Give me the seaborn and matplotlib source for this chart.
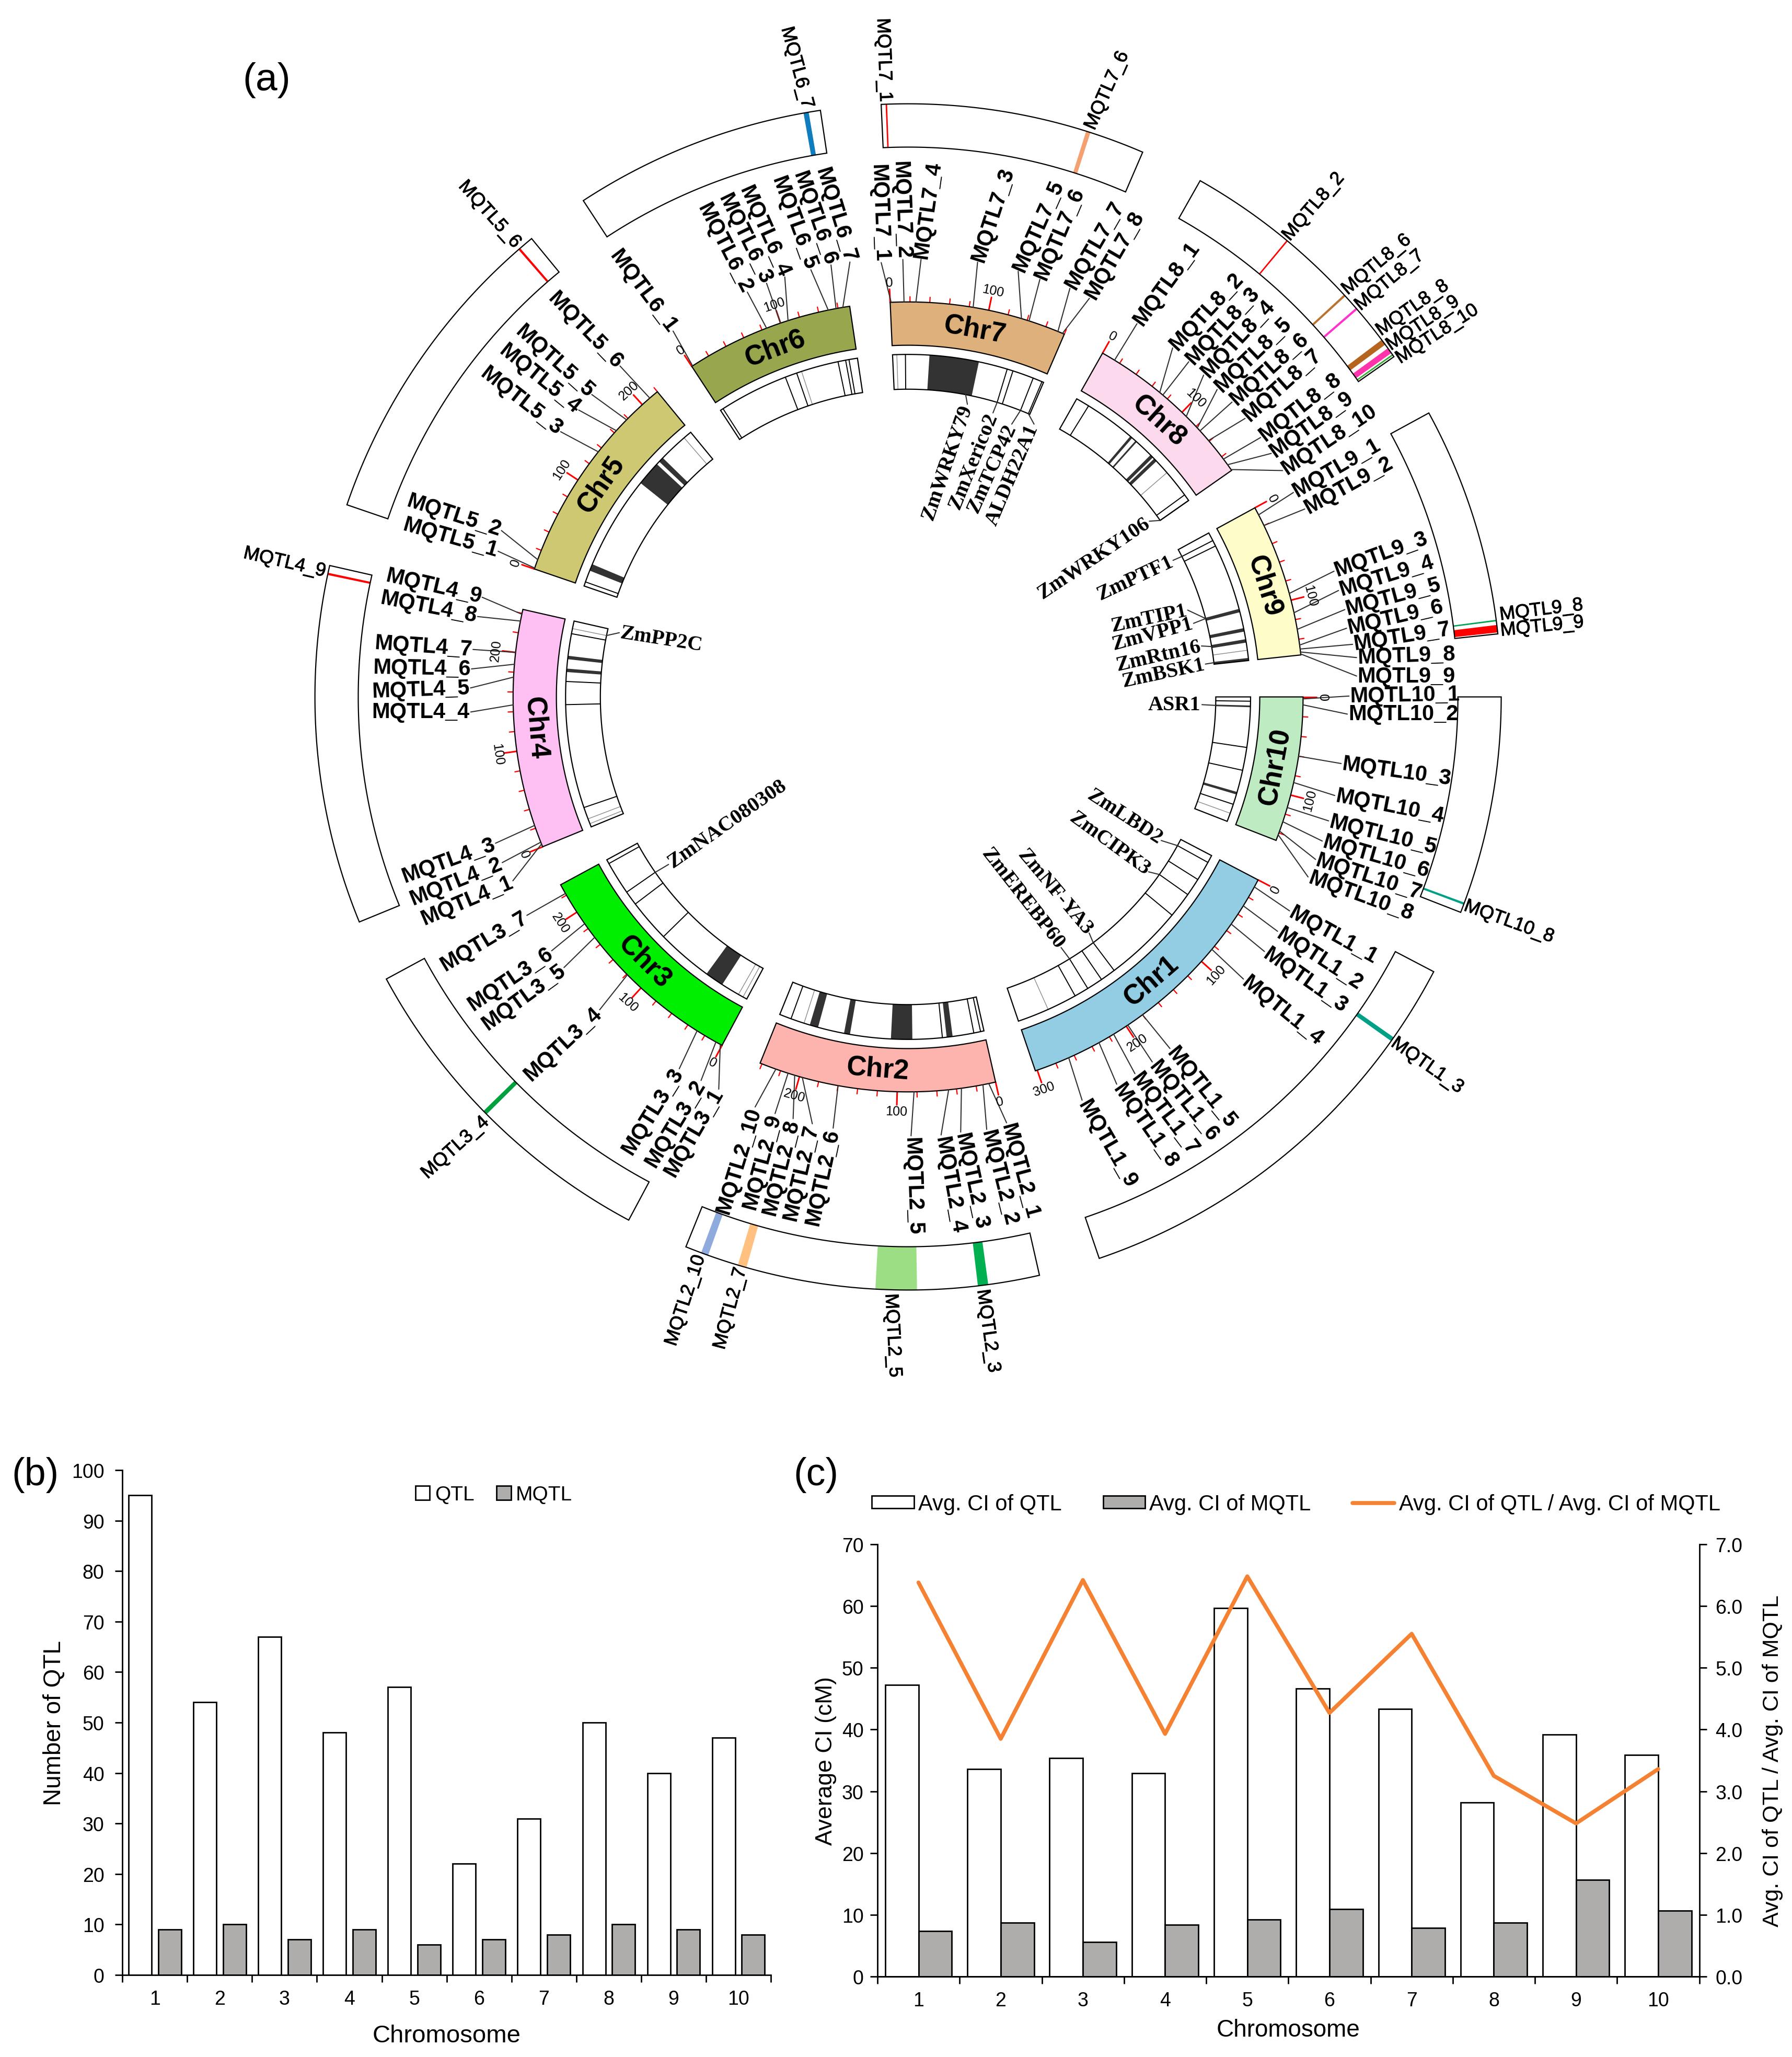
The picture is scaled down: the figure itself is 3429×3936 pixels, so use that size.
import numpy as np
import pandas as pd
import matplotlib
matplotlib.use('Agg')
import matplotlib.pyplot as plt
import matplotlib.patheffects as pe
import seaborn as sns
from matplotlib.font_manager import FontProperties
from matplotlib.textpath import TextPath

# ---- data, panel (a)
chr_names = ['Chr1', 'Chr2', 'Chr3', 'Chr4', 'Chr5', 'Chr6', 'Chr7', 'Chr8', 'Chr9', 'Chr10']
chr_lengths = [302, 242, 232, 244, 220, 172, 180, 177, 156, 148]
chr_colors = ['#93CDE3', '#FDB3AE', '#00EE00', '#FEBFF3', '#CEC872',
              '#98A64E', '#DEB07B', '#FDD9EE', '#FEFDC9', '#BEEBC1']

qtl_pos = [
    [8, 30, 52, 84, 180, 198, 215, 232, 266],
    [7, 13, 35, 48, 83, 160, 197, 205, 212, 225],
    [2, 7, 29, 119, 169, 186, 222],
    [3, 5, 23, 147, 175, 188, 200, 232, 239],
    [1, 10, 135, 163, 178, 210],
    [1, 85, 100, 108, 150, 158, 165],
    [1, 14, 84, 26, 134, 142, 173, 178],
    [14, 70, 74, 106, 122, 126, 139, 163, 170, 176],
    [8, 20, 93, 113, 130, 146, 150, 153, 155],
    [2, 8, 60, 87, 113, 128, 138, 142],
]

# outer track: chromosome index, name, start cM, end cM, colour
outer_chr = [0, 1, 1, 1, 1, 2, 3, 4, 5, 6, 6, 7, 7, 7, 7, 7, 7, 8, 8, 9]
outer_names = ['MQTL1_3', 'MQTL2_3', 'MQTL2_5', 'MQTL2_7', 'MQTL2_10', 'MQTL3_4', 'MQTL4_9', 'MQTL5_6',
               'MQTL6_7', 'MQTL7_1', 'MQTL7_6', 'MQTL8_2', 'MQTL8_6', 'MQTL8_7', 'MQTL8_8', 'MQTL8_9',
               'MQTL8_10', 'MQTL9_8', 'MQTL9_9', 'MQTL10_8']
outer_start = [51.5, 35, 83, 199, 226, 119, 237.5, 208.5, 160.5, 3, 139.5, 70.5, 123.5, 135.5, 163, 170, 175, 146.5, 150, 141]
outer_end = [54.5, 42, 111, 205, 231, 122, 239, 210, 164, 4, 142.5, 71.5, 125, 137, 167, 174, 176, 147.5, 155, 142.5]
outer_colors = ['#00A087', '#00B050', '#9CDE84', '#FFC080', '#8FAADC', '#00A03E', '#FF0000', '#FF0000',
                '#0F7DBD', '#FF0000', '#F4A070', '#FF0000', '#B87333', '#FF33CC', '#B5651D', '#FF33AA',
                '#33AA33', '#00A651', '#FF0000', '#00A087']

# gene track
gene_lines = [
    [9, 32, 53, 83, 176, 194, 213, 230],
    [4, 12, 49, 228],
    [121, 171, 188, 227],
    [24, 146, 173, 229],
    [5],
    [3.5, 85, 99, 149, 158, 162],
    [15, 135, 142, 167, 178],
    [16, 169, 177],
    [10, 17],
    [5, 59, 86, 127],
]
gene_faint = [[265], [212], [5, 11], [4, 10, 235], [210], [105], [5], [136], [144], [138]]
gene_bands = [
    [],
    [(37, 44), (84, 109), (157, 164), (195, 205)],
    [(33, 55)],
    [(184, 188), (199, 203)],
    [(19, 27), (137, 166), (170, 176)],
    [],
    [(43, 101)],
    [(76, 79), (84, 86), (108, 112), (114, 118)],
    [(95, 99), (118, 122), (131, 135), (153, 156)],
    [(10, 12), (112, 115)],
]
gene_names = ['ZmWRKY79', 'ZmXerico2', 'ZmTCP42', 'ALDH22A1', 'ZmWRKY106', 'ZmPTF1', 'ZmTIP1', 'ZmVPP1', 'ZmRtn16',
              'ZmBSK1', 'ASR1', 'ZmLBD2', 'ZmCIPK3', 'ZmNF-YA3', 'ZmEREBP60', 'ZmNAC080308', 'ZmPP2C']
gene_chr = [6, 6, 6, 6, 7, 8, 8, 8, 8, 8, 9, 0, 0, 0, 0, 2, 3]
gene_pos = [93, 135, 167, 178, 177, 10, 96, 96, 133, 154, 11, 9, 53, 176, 213, 188, 235]

# ---- data, panels (b) and (c)
chromosomes = ['1', '2', '3', '4', '5', '6', '7', '8', '9', '10']
n_qtl = [95, 54, 67, 48, 57, 22, 31, 50, 40, 47]
n_mqtl = [9, 10, 7, 9, 6, 7, 8, 10, 9, 8]
ci_qtl = [47.2, 33.6, 35.4, 32.9, 59.7, 46.6, 43.3, 28.2, 39.2, 35.9]
ci_mqtl = [7.4, 8.7, 5.6, 8.4, 9.2, 10.9, 7.9, 8.7, 15.7, 10.7]
ci_ratio = [6.38, 3.85, 6.42, 3.93, 6.48, 4.27, 5.55, 3.25, 2.48, 3.36]

# ---- layout of panel (a), in units of the 1366x1568 page
CX, CY = 692, 531.5
chr_start = [-27.6, -77.2, 241.9, 202.3, 161.1, 123.2, 92.6, 60.5, 28.6, 0.0]
chr_end = [-71.2, -112.0, 208.4, 167.2, 129.4, 98.5, 66.7, 35.0, 6.1, -21.3]
RIBBON = (268, 301)
GENES = (234.5, 261)
OUTER = (419, 452)

qtl_label_xy = [
    [(1016, 713), (1005.4, 730.8), (994.7, 747.3), (977.3, 770.6), (915.5, 829), (902, 839.2), (887.7, 848.9), (872.8, 857.8), (843.6, 871.7)],
    [(776.9, 892.8), (761.1, 897.9), (740, 900.3), (723.8, 903), (695.6, 904), (627, 897.3), (610.5, 893.8), (595.2, 889.8), (580.8, 885.7), (563, 884.7)],
    [(528.7, 863.4), (514.7, 856.3), (497.5, 847.1), (429, 796), (399, 760.1), (388.9, 746.2), (369, 717.5)],
    [(355.8, 686.5), (347.5, 672), (341.9, 656), (320.5, 543), (320.5, 526), (321.3, 509.5), (322.6, 492.7), (326.6, 463), (330.4, 447)],
    [(343, 410), (346, 393), (397.3, 306), (411.3, 288.8), (422.7, 275.6), (446.1, 252)],
    [(490, 222.3), (552.3, 189.2), (567.5, 182.1), (582.5, 176.5), (604.9, 170.2), (620.9, 166.4), (636.6, 163.8)],
    [(670.2, 162.5), (686.7, 160.2), (756.7, 164.1), (707.2, 160.2), (791.4, 172.4), (807.3, 178.3), (834.3, 187.3), (849.2, 194.8)],
    [(888.8, 216.3), (919.5, 237.8), (931.8, 248.3), (943.3, 258.3), (954.9, 270.8), (967.1, 281.4), (977, 293.9), (990.6, 310.4), (999.5, 323.6), (1012.7, 335.2)],
    [(1018.6, 356.7), (1027.5, 369.9), (1052.3, 422.7), (1056.6, 439.2), (1061.6, 455.1), (1063.2, 470.6), (1068.2, 485.5), (1071.8, 500.2), (1071.8, 515.6)],
    [(1070.7, 530.1), (1069.3, 544.6), (1064.2, 588.2), (1059.2, 614.8), (1053.9, 636.3), (1048.6, 653.1), (1043, 668.5), (1036.9, 683.3)],
]
qtl_label_rot = [
    [-29, -33, -35, -39, -51, -51, -53, -55, -60],
    [-75, -76, -78, -80, -88, 78, 77, 76, 75, 73],
    [60, 59, 58, 43, 36, 34, 31],
    [23, 22, 20, 0, 2, -1, -4, -11, -13],
    [-16, -18, -38, -39, -42, -46],
    [-53, -63, -64, -66, -70, -71, -73],
    [-88, -88, 72, 82, 66, 67, 60, 60],
    [54, 47, 47, 47, 44, 42, 42, 38, 36, 34],
    [30, 29, 20, 17, 15, 13, 9, 2, 0],
    [1, 0, -8, -11, -14, -16, -18, -20],
]
outer_label_xy = [(1087.7, 812.4), (753, 1014.7), (680.3, 1018.2), (556.6, 997.5), (522.4, 991.4), (347, 875), (217, 429),
                  (373.2, 163.8), (607.4, 52), (673.5, 46.2), (843.6, 69.4), (1001, 157.9), (1049, 202), (1058.9, 214),
                  (1076.4, 235.1), (1084.3, 246.7), (1095.2, 255), (1174.6, 465.3), (1175.2, 477.9), (1150, 702.8)]
outer_label_rot = [-35, -82, -87, 75, 72, 42, -13, -48, -75, -88, 66, 49, 40, 40, 35, 34, 33, 7, 6, -20]
gene_label_xy = [(722, 352.7), (741.9, 351.7), (756, 357.3), (771.6, 362.3), (833.7, 426), (865, 440.9), (875.6, 471.6),
                 (878.3, 483.8), (882.6, 500.3), (886.5, 513.3), (894.9, 537.4), (857, 622.8), (845.4, 643.1),
                 (803.6, 680), (779.3, 685), (554, 628), (503.7, 487.6)]
gene_label_rot = [71, 68, 66, 67, 34, 25, 12, 15, 13, 12, 0, -33, -36, -50, -52, 35, -9]

sns.set_style('ticks')
plt.rcParams['font.family'] = ['Liberation Sans', 'DejaVu Sans']
for key in ['text.color', 'axes.labelcolor', 'xtick.color', 'ytick.color', 'axes.edgecolor']:
    plt.rcParams[key] = 'black'

fig = plt.figure(figsize=(34.3, 39.37), dpi=100)
ax = fig.add_axes([0, 0, 1, 1])
ax.set_xlim(0, 1366)
ax.set_ylim(1568, 0)
ax.axis('off')

PX_PER_UNIT = 3430 / 1366
thicker = [pe.withStroke(linewidth=0.7, foreground='black')]


def cm_angle(c, cm):
    return chr_start[c] + (chr_end[c] - chr_start[c]) * cm / chr_lengths[c]


def polar(angle, r):
    return CX + r * np.cos(np.radians(angle)), CY - r * np.sin(np.radians(angle))


def sector(c, cm0, cm1, radii, **kw):
    ang = np.linspace(cm_angle(c, cm0), cm_angle(c, cm1), 60)
    xo, yo = polar(ang, radii[1])
    xi, yi = polar(ang[::-1], radii[0])
    ax.fill(np.r_[xo, xi], np.r_[yo, yi], **kw)


def tangent_rot(angle):
    a = (angle + 180) % 360 - 180
    return a + 90 if a < 0 else a - 90


def label_with_leader(name, xy, rot, target, size, **kw):
    ax.text(xy[0], xy[1], name, rotation=rot, rotation_mode='anchor', ha='center', va='center',
            fontsize=size, zorder=5, **kw)
    fp = FontProperties(family=kw.get('family', 'Liberation Sans'), weight=kw.get('fontweight', 'normal'))
    half = TextPath((0, 0), name, size=size, prop=fp).get_extents().width * (100 / 72) / PX_PER_UNIT / 2 + 1.5
    dx, dy = np.cos(np.radians(rot)) * half, -np.sin(np.radians(rot)) * half
    ends = [(xy[0] + dx, xy[1] + dy), (xy[0] - dx, xy[1] - dy)]
    end = min(ends, key=lambda p: np.hypot(p[0] - target[0], p[1] - target[1]))
    ax.plot([target[0], end[0]], [target[1], end[1]], color='#303030', lw=1.5, zorder=3)


for c, name in enumerate(chr_names):
    length = chr_lengths[c]
    # ribbon
    sector(c, 0, length, RIBBON, facecolor=chr_colors[c], edgecolor='black', lw=1.6, zorder=2)
    mid = cm_angle(c, length / 2)
    x, y = polar(mid, sum(RIBBON) / 2)
    ax.text(x, y, name, rotation=tangent_rot(mid), rotation_mode='anchor', ha='center', va='center',
            fontsize=38, fontweight='bold', zorder=4)
    # red ticks
    for cm in np.arange(0, length + 1, 20):
        a = cm_angle(c, cm)
        major = cm % 100 == 0
        xs, ys = polar(a, np.array([RIBBON[1], RIBBON[1] + (10 if major else 4)]))
        ax.plot(xs, ys, color='#FF0000', lw=2.2 if major else 1.6, zorder=1)
        if major:
            x, y = polar(a, 316)
            ax.text(x, y, str(int(cm)), rotation=tangent_rot(a), rotation_mode='anchor', ha='center', va='center',
                    fontsize=18, zorder=5)
    # gene track
    sector(c, 0, length, GENES, facecolor='white', edgecolor='none', zorder=2)
    for b0, b1 in gene_bands[c]:
        sector(c, b0, b1, GENES, facecolor='#333333', edgecolor='none', zorder=2.2)
    for cm in gene_lines[c]:
        xs, ys = polar(cm_angle(c, cm), np.array(GENES))
        ax.plot(xs, ys, color='black', lw=1.4, zorder=2.3)
    for cm in gene_faint[c]:
        xs, ys = polar(cm_angle(c, cm), np.array(GENES))
        ax.plot(xs, ys, color='#8A8A8A', lw=1.0, zorder=2.3)
    sector(c, 0, length, GENES, facecolor='none', edgecolor='black', lw=1.6, zorder=2.5)
    # outer track
    sector(c, 0, length, OUTER, facecolor='white', edgecolor='none', zorder=2)
    for k, oc in enumerate(outer_chr):
        if oc == c:
            sector(c, outer_start[k], outer_end[k], OUTER, facecolor=outer_colors[k], edgecolor='none', zorder=2.2)
    sector(c, 0, length, OUTER, facecolor='none', edgecolor='black', lw=1.6, zorder=2.5)
    # MQTL names on the ribbon
    for k, cm in enumerate(qtl_pos[c]):
        label_with_leader('MQTL%d_%d' % (c + 1, k + 1), qtl_label_xy[c][k], qtl_label_rot[c][k],
                          polar(cm_angle(c, cm), RIBBON[1]), 30, fontweight='bold')

for k, name in enumerate(outer_names):
    x, y = outer_label_xy[k]
    ax.text(x, y, name, rotation=outer_label_rot[k], rotation_mode='anchor', ha='center', va='center',
            fontsize=26, zorder=5, path_effects=thicker)

for k, name in enumerate(gene_names):
    target = polar(cm_angle(gene_chr[k], gene_pos[k]), GENES[0])
    label_with_leader(name, gene_label_xy[k], gene_label_rot[k], target, 29,
                      family='Liberation Serif', fontweight='bold')

ax.text(203, 61, '(a)', fontsize=54, ha='center', va='center')
ax.text(27, 1124, '(b)', fontsize=53, ha='center', va='center')
ax.text(622, 1124, '(c)', fontsize=53, ha='center', va='center')

# ---- panel (b)
df_b = pd.DataFrame({'Chromosome': chromosomes * 2, 'Count': n_qtl + n_mqtl,
                     'Type': ['QTL'] * 10 + ['MQTL'] * 10})
ax_b = fig.add_axes([0.0683, 0.0399, 0.3617, 0.2453])
sns.barplot(data=df_b, x='Chromosome', y='Count', hue='Type', palette={'QTL': 'white', 'MQTL': '#AFABAB'},
            width=0.91, gap=0.22, edgecolor='black', linewidth=2, ax=ax_b)
ax_b.set_xlim(-0.5, 9.5)
ax_b.set_ylim(0, 100)
ax_b.set_yticks(np.arange(0, 101, 10))
ax_b.legend(loc='center', bbox_to_anchor=(0.573, 0.951), ncol=2, frameon=False, fontsize=28,
            handlelength=0.7, handleheight=0.7, handletextpad=0.25, columnspacing=1.1)
ax_b.set_ylabel('Number of QTL', fontsize=33, labelpad=8)
ax_b.set_xlabel('Chromosome', fontsize=34, labelpad=22)

# ---- panel (c)
df_c = pd.DataFrame({'Chromosome': chromosomes * 2, 'CI': ci_qtl + ci_mqtl,
                     'Type': ['Avg. CI of QTL'] * 10 + ['Avg. CI of MQTL'] * 10})
ax_c = fig.add_axes([0.4895, 0.0391, 0.4585, 0.2101])
sns.barplot(data=df_c, x='Chromosome', y='CI', hue='Type',
            palette={'Avg. CI of QTL': 'white', 'Avg. CI of MQTL': '#AFABAB'},
            width=0.81, gap=0, edgecolor='black', linewidth=2, ax=ax_c)
ax_c.set_xlim(-0.5, 9.5)
ax_c.set_ylim(0, 70)
ax_c.set_yticks(np.arange(0, 71, 10))
ax_c.set_ylabel('Average CI (cM)', fontsize=32, labelpad=7)
ax_c.set_xlabel('Chromosome', fontsize=33, labelpad=11.5)

ax_r = ax_c.twinx()
sns.lineplot(x=np.arange(10), y=ci_ratio, color='#F58233', linewidth=5.5, ax=ax_r,
             label='Avg. CI of QTL / Avg. CI of MQTL', legend=False)
ax_r.set_ylim(0, 7)
ax_r.set_yticks(np.arange(0, 7.1, 1))
ax_r.set_yticklabels(['%.1f' % v for v in np.arange(0, 7.1, 1)])
ax_r.set_ylabel('Avg. CI of QTL / Avg. CI of MQTL', fontsize=31, labelpad=27)

bar_h, bar_l = ax_c.get_legend_handles_labels()
line_h, line_l = ax_r.get_legend_handles_labels()
ax_c.legend_.remove()
fig.legend(bar_h + line_h, bar_l + line_l, loc='center', bbox_to_anchor=(0.723, 0.2687), ncol=3, frameon=False,
           fontsize=30, handlelength=1.93, handleheight=0.5, handletextpad=0.2, columnspacing=1.9)

ax_b.tick_params(axis='y', labelsize=27, length=10, width=2, pad=15)
ax_c.tick_params(axis='y', labelsize=27, length=10, width=2, pad=9)
ax_r.tick_params(axis='y', labelsize=27, length=10, width=2, pad=12, direction='out', right=True, labelright=True,
                 left=False, labelleft=False)
for a in (ax_b, ax_c, ax_r):
    for s in a.spines.values():
        s.set_linewidth(2)

for a in (ax_b, ax_c):
    a.spines['top'].set_visible(False)
    a.spines['right'].set_visible(False)
    # ticks sit between the chromosomes, labels under the groups
    a.set_xticks(np.arange(-0.5, 10, 1))
    a.set_xticklabels([])
    a.set_xticks(np.arange(10), labels=chromosomes, minor=True)
    a.tick_params(axis='x', which='major', length=10, width=2)
    a.tick_params(axis='x', which='minor', length=0, labelsize=27, pad=20)

ax_r.spines['top'].set_visible(False)
ax_r.spines['left'].set_visible(False)

fig.savefig('out.png', dpi=100)
